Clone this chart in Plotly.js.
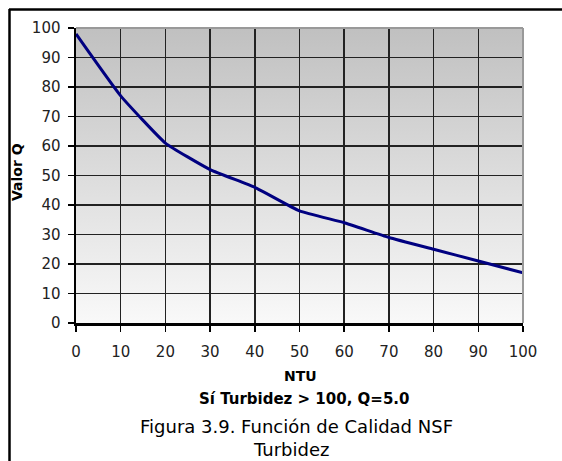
<!DOCTYPE html>
<html><head><meta charset="utf-8">
<script src="https://cdn.plot.ly/plotly-3.0.1.min.js"></script>
<style>html,body{margin:0;padding:0;background:#fff}#c{width:562px;height:461px}</style>
</head><body><div id="c"></div>
<script>
const ntu = [0, 10, 20, 30, 40, 50, 60, 70, 80, 90, 100];
const valorQ = [98, 77, 61, 52, 46, 38, 34, 29, 25, 21, 17];
const xTicks = [0, 10, 20, 30, 40, 50, 60, 70, 80, 90, 100];
const yTicks = [0, 10, 20, 30, 40, 50, 60, 70, 80, 90, 100];
const yTitle = 'Valor Q';
const xTitle = 'NTU';
const note = 'Sí Turbidez > 100, Q=5.0';
const captionLines = ['Figura 3.9. Función de Calidad NSF', 'Turbidez'];

const W = 562, H = 461, L = 76, R = 39, T = 28, B = 138;
const pw = W - L - R, ph = H - T - B;
const px = v => (v - L) / pw;
const py = v => (H - B - v) / ph;

const svg = "<svg xmlns='http://www.w3.org/2000/svg' width='100' height='100' preserveAspectRatio='none'><defs><linearGradient id='g' x1='0' y1='0' x2='0' y2='1'><stop offset='0' stop-color='#c0c0c0'/><stop offset='1' stop-color='#f9f9f9'/></linearGradient></defs><rect width='100' height='100' fill='url(#g)'/></svg>";
const src = 'data:image/svg+xml;base64,' + btoa(svg);

const font = 'DejaVu Sans, Verdana, sans-serif';

Plotly.newPlot('c', [{
  x: ntu, y: valorQ, type: 'scatter', mode: 'lines',
  line: {color: '#000080', width: 3, shape: 'spline', smoothing: 0.4},
  hoverinfo: 'skip', showlegend: false
}], {
  width: W, height: H,
  margin: {l: L, r: R, t: T, b: B, pad: 0},
  paper_bgcolor: '#ffffff', plot_bgcolor: 'rgba(0,0,0,0)',
  font: {family: font, color: '#222', size: 15},
  images: [{source: src, xref: 'paper', yref: 'paper', x: 0, y: 1, sizex: 1, sizey: 1,
    xanchor: 'left', yanchor: 'top', sizing: 'stretch', layer: 'below'}],
  xaxis: {range: [0, 100], tickvals: xTicks, ticktext: xTicks.map(String),
    showgrid: true, gridcolor: '#222', gridwidth: 1.5,
    showline: true, linecolor: '#000', linewidth: 2.5,
    ticks: 'outside', ticklen: 6, tickwidth: 1.5, tickcolor: '#000',
    ticklabelstandoff: 7, zeroline: false, fixedrange: true,
    tickfont: {family: font, size: 15, color: '#222'}},
  yaxis: {range: [0, 100], tickvals: yTicks, ticktext: yTicks.map(String),
    showgrid: true, gridcolor: '#222', gridwidth: 1.5,
    showline: true, linecolor: '#000', linewidth: 2.5,
    ticks: 'outside', ticklen: 6, tickwidth: 1.5, tickcolor: '#000',
    ticklabelstandoff: 4, zeroline: false, fixedrange: true,
    tickfont: {family: font, size: 15, color: '#222'}},
  shapes: [
    {type: 'line', xref: 'paper', yref: 'paper', x0: 0, x1: 1, y0: 1, y1: 1, line: {color: '#999', width: 2}},
    {type: 'line', xref: 'paper', yref: 'paper', x0: 1, x1: 1, y0: 0, y1: 1, line: {color: '#999', width: 2}},
    {type: 'line', xref: 'paper', yref: 'paper', x0: px(9), x1: px(W + 5), y0: py(9.5), y1: py(9.5), line: {color: '#000', width: 2.5}},
    {type: 'line', xref: 'paper', yref: 'paper', x0: px(9.5), x1: px(9.5), y0: py(9), y1: py(H + 5), line: {color: '#000', width: 2.5}}
  ],
  annotations: [
    {text: '<b>' + yTitle + '</b>', xref: 'paper', yref: 'paper', x: px(17), y: py(172),
      textangle: -90, showarrow: false, xanchor: 'center', yanchor: 'middle',
      font: {family: font, size: 14, color: '#000'}},
    {text: '<b>' + xTitle + '</b>', xref: 'paper', yref: 'paper', x: px(300), y: py(376),
      showarrow: false, xanchor: 'center', yanchor: 'middle',
      font: {family: font, size: 14, color: '#000'}},
    {text: '<b>' + note + '</b>', xref: 'paper', yref: 'paper', x: px(304), y: py(399),
      showarrow: false, xanchor: 'center', yanchor: 'middle',
      font: {family: font, size: 15, color: '#000'}},
    {text: captionLines[0], xref: 'paper', yref: 'paper', x: px(296), y: py(426),
      showarrow: false, xanchor: 'center', yanchor: 'middle', borderpad: 0,
      font: {family: font, size: 18, color: '#000'}},
    {text: captionLines[1], xref: 'paper', yref: 'paper', x: px(291), y: py(449),
      showarrow: false, xanchor: 'center', yanchor: 'middle', borderpad: 0,
      font: {family: font, size: 18, color: '#000'}}
  ]
}, {displayModeBar: false, staticPlot: true});
</script></body></html>
